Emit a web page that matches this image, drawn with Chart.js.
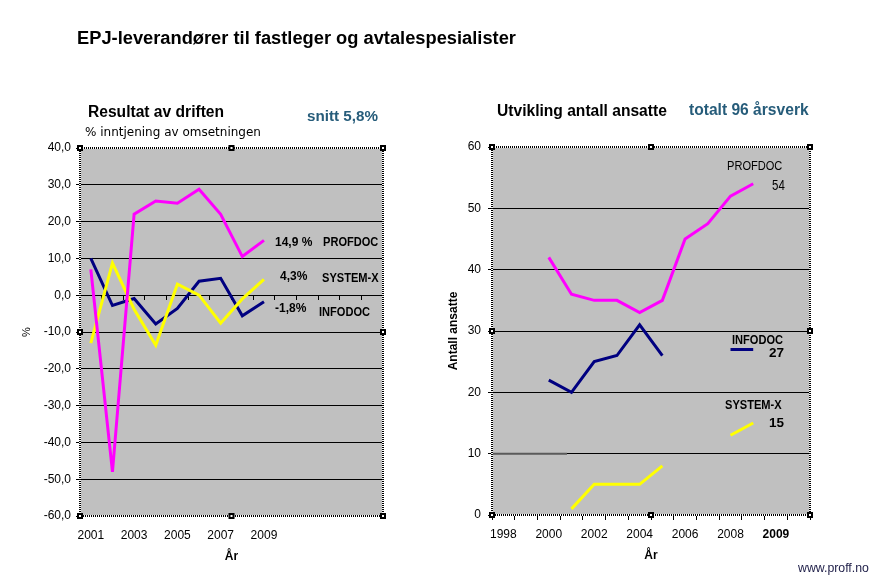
<!DOCTYPE html>
<html><head><meta charset="utf-8">
<script src="https://cdn.jsdelivr.net/npm/chart.js@4/dist/chart.umd.min.js"></script>
<style>
html,body{margin:0;padding:0;background:#fff;}
#wrap{position:relative;width:885px;height:583px;overflow:hidden;font-family:'Liberation Sans',Arial,sans-serif;}
canvas{position:absolute;top:0;}
.t{position:absolute;white-space:nowrap;line-height:1;color:#000;}
.b{font-weight:bold;}
.n{transform:scaleX(0.82);transform-origin:0 50%;}
.teal{color:#265C7A;}
</style></head><body>
<div id="wrap">
<canvas id="c1" width="420" height="583" style="left:0"></canvas>
<canvas id="c2" width="465" height="583" style="left:420px"></canvas>

<div class="t b" style="left:77px;top:28.8px;font-size:18.3px">EPJ-leverandører til fastleger og avtalespesialister</div>

<div class="t b" style="left:88px;top:103.9px;font-size:15.6px">Resultat av driften</div>
<div class="t" style="left:85px;top:125.5px;font-size:12px;font-family:'DejaVu Sans',sans-serif">% inntjening av omsetningen</div>
<div class="t b teal" style="left:307px;top:107.5px;font-size:15.2px">snitt 5,8%</div>

<div class="t b" style="left:275px;top:235.8px;font-size:12px">14,9 %</div>
<div class="t b n" style="left:323px;top:235.1px;font-size:13.5px">PROFDOC</div>
<div class="t b" style="left:280px;top:270.4px;font-size:12px">4,3%</div>
<div class="t b n" style="left:322px;top:270.9px;font-size:13.5px">SYSTEM-X</div>
<div class="t b" style="left:275px;top:301.6px;font-size:12px">-1,8%</div>
<div class="t b n" style="left:319px;top:304.7px;font-size:13.5px">INFODOC</div>

<div class="t b" style="left:497px;top:103.2px;font-size:15.6px">Utvikling antall ansatte</div>
<div class="t b teal" style="left:689px;top:102.1px;font-size:15.6px">totalt 96 årsverk</div>

<div class="t n" style="left:727px;top:159.4px;font-size:13.5px">PROFDOC</div>
<div class="t n" style="left:772px;top:177.8px;font-size:14px">54</div>
<div class="t b n" style="left:732px;top:333.1px;font-size:13.5px">INFODOC</div>
<div class="t b" style="left:769px;top:346.4px;font-size:13.5px">27</div>
<div class="t b n" style="left:725px;top:398.1px;font-size:13.5px">SYSTEM-X</div>
<div class="t b" style="left:769px;top:416.4px;font-size:13.5px">15</div>

<div class="t" style="left:798px;top:562px;font-size:12.3px;color:#1E1E48">www.proff.no</div>
</div>
<script>
// ---- Left chart: Resultat av driften (% inntjening av omsetningen) ----
const leftCategories = ['2001','2002','2003','2004','2005','2006','2007','2008','2009','2010','2011','2012','2013','2014'];
const leftTickLabels = ['2001','','2003','','2005','','2007','','2009','','','','',''];
const profdocResult = [7, -48, 22, 25.6, 25, 28.8, 22, 10.5, 14.9];
const systemxResult = [-13, 8.7, -3.8, -13.6, 3, 0, -7.6, -1, 4.3];
const infodocResult = [10, -2.8, -0.9, -7.8, -3.6, 3.8, 4.6, -5.6, -1.8];

// ---- Right chart: Utvikling antall ansatte ----
const rightCategories = ['1998','1999','2000','2001','2002','2003','2004','2005','2006','2007','2008','2009','2010','2011'];
const rightTickLabels = ['1998','','2000','','2002','','2004','','2006','','2008','','2009',''];
const profdocStaff = [null, null, 42, 36, 35, 35, 33, 35, 45, 47.5, 52, 54, null, null];
const infodocStaff = [null, null, 22, 20, 25, 26, 31, 26, null, null, 27, 27, null, null];
const systemxStaff = [null, null, null, 1, 5, 5, 5, 8, null, null, 13, 15, null, null];

const FAM = "'Liberation Sans', Arial, sans-serif";
Chart.defaults.font.family = FAM;
Chart.defaults.color = '#000';

const PINK = '#FF00FF', NAVY = '#000080', YELLOW = '#FFFF00';

const plotDecor = {
  id: 'plotDecor',
  beforeDraw(chart) {
    const {ctx, chartArea: a} = chart;
    ctx.save();
    ctx.fillStyle = '#C0C0C0';
    ctx.fillRect(a.left, a.top, a.right - a.left, a.bottom - a.top);
    ctx.restore();
  },
  afterDraw(chart) {
    const {ctx, chartArea: a} = chart;
    ctx.save();
    const o = chart.options.plugins.plotDecor || {};
    if (o.refLine) {
      const xs = chart.scales.x, ys = chart.scales.y;
      const yy = ys.getPixelForValue(o.refLine.value);
      const p2 = xs.getPixelForValue(2), p3 = xs.getPixelForValue(3);
      ctx.strokeStyle = '#5a5a5a';
      ctx.lineWidth = 2;
      ctx.beginPath();
      ctx.moveTo(a.left, yy);
      ctx.lineTo(p2 + (p3 - p2) * 0.8, yy);
      ctx.stroke();
    }
    ctx.lineWidth = 2;
    ctx.setLineDash([]);
    ctx.strokeStyle = '#ffffff';
    ctx.strokeRect(a.left, a.top, a.right - a.left, a.bottom - a.top);
    ctx.setLineDash([1, 1]);
    ctx.strokeStyle = '#000000';
    ctx.strokeRect(a.left, a.top, a.right - a.left, a.bottom - a.top);
    ctx.setLineDash([]);
    const mx = (a.left + a.right) / 2, my = (a.top + a.bottom) / 2;
    const pts = [[a.left,a.top],[mx,a.top],[a.right,a.top],[a.left,my],[a.right,my],[a.left,a.bottom],[mx,a.bottom],[a.right,a.bottom]];
    pts.forEach(([px, py]) => {
      ctx.fillStyle = '#000';
      ctx.fillRect(px - 3, py - 3, 6, 6);
      ctx.fillStyle = '#fff';
      ctx.fillRect(px - 1, py - 1, 2, 2);
    });
    ctx.restore();
  }
};

function lineDs(label, data, color) {
  return { label, data, borderColor: color, backgroundColor: color, borderWidth: 3,
           pointRadius: 0, pointHoverRadius: 0, tension: 0, fill: false, spanGaps: false };
}
function edgeGrid(minV, maxV) {
  return ctx => (ctx.tick && (ctx.tick.value === minV || ctx.tick.value === maxV)) ? 'rgba(0,0,0,0)' : '#000';
}

new Chart(document.getElementById('c1'), {
  type: 'line',
  data: {
    labels: leftCategories,
    datasets: [
      lineDs('PROFDOC', profdocResult, PINK),
      lineDs('SYSTEM-X', systemxResult, YELLOW),
      lineDs('INFODOC', infodocResult, NAVY)
    ]
  },
  options: {
    responsive: false, animation: false, devicePixelRatio: 1,
    layout: { padding: { left: 20, right: 37, top: 148, bottom: 19 } },
    plugins: { legend: { display: false }, tooltip: { enabled: false }, plotDecor: {} },
    scales: {
      x: {
        type: 'category', offset: true,
        grid: { display: false, drawTicks: false }, border: { display: false },
        ticks: { autoSkip: false, maxRotation: 0, minRotation: 0, padding: 12, color: '#000',
                 font: { size: 12 }, callback: (v, i) => leftTickLabels[i] },
        title: { display: true, text: 'År', color: '#000', font: { size: 12, weight: 'bold' }, padding: 0 },
        afterFit: s => { s.height = 48; }
      },
      x0: {
        type: 'category', axis: 'x', position: { y: 0 }, offset: true,
        grid: { offset: true, drawOnChartArea: false, drawTicks: true, tickLength: 5, color: '#000', tickColor: '#000' },
        border: { display: false }, ticks: { display: false }
      },
      y: {
        min: -60, max: 40,
        ticks: { stepSize: 10, padding: 5, color: '#000', font: { size: 12 },
                 callback: v => v.toFixed(1).replace('.', ',') },
        grid: { color: edgeGrid(-60, 40), tickColor: '#000', tickLength: 4, lineWidth: 1 },
        border: { display: false },
        title: { display: true, text: '%', color: '#000', font: { size: 11 }, padding: 0 },
        afterFit: s => { s.width = 60; }
      }
    }
  },
  plugins: [plotDecor]
});

new Chart(document.getElementById('c2'), {
  type: 'line',
  data: {
    labels: rightCategories,
    datasets: [
      lineDs('PROFDOC', profdocStaff, PINK),
      lineDs('SYSTEM-X', systemxStaff, YELLOW),
      lineDs('INFODOC', infodocStaff, NAVY)
    ]
  },
  options: {
    responsive: false, animation: false, devicePixelRatio: 1,
    layout: { padding: { left: 26, right: 75, top: 147, bottom: 20 } },
    plugins: { legend: { display: false }, tooltip: { enabled: false }, plotDecor: { refLine: { value: 10 } } },
    scales: {
      x: {
        type: 'category', offset: true,
        grid: { offset: true, drawOnChartArea: false, drawTicks: true, tickLength: 5, color: '#000', tickColor: '#000' },
        border: { display: false },
        ticks: { autoSkip: false, maxRotation: 0, minRotation: 0, padding: 7, color: '#000',
                 font: ctx => ({ size: 12, weight: (rightTickLabels[ctx.index] === '2009') ? 'bold' : 'normal' }),
                 callback: (v, i) => rightTickLabels[i] },
        title: { display: true, text: 'År', color: '#000', font: { size: 12, weight: 'bold' }, padding: 0 },
        afterFit: s => { s.height = 48; }
      },
      y: {
        min: 0, max: 60,
        ticks: { stepSize: 10, padding: 7, color: '#000', font: { size: 12 } },
        grid: { color: edgeGrid(0, 60), tickColor: '#000', tickLength: 4, lineWidth: 1 },
        border: { display: false },
        title: { display: true, text: 'Antall ansatte', color: '#000', font: { size: 12, weight: 'bold' }, padding: 0 },
        afterFit: s => { s.width = 46; }
      }
    }
  },
  plugins: [plotDecor]
});
</script>
</body></html>
